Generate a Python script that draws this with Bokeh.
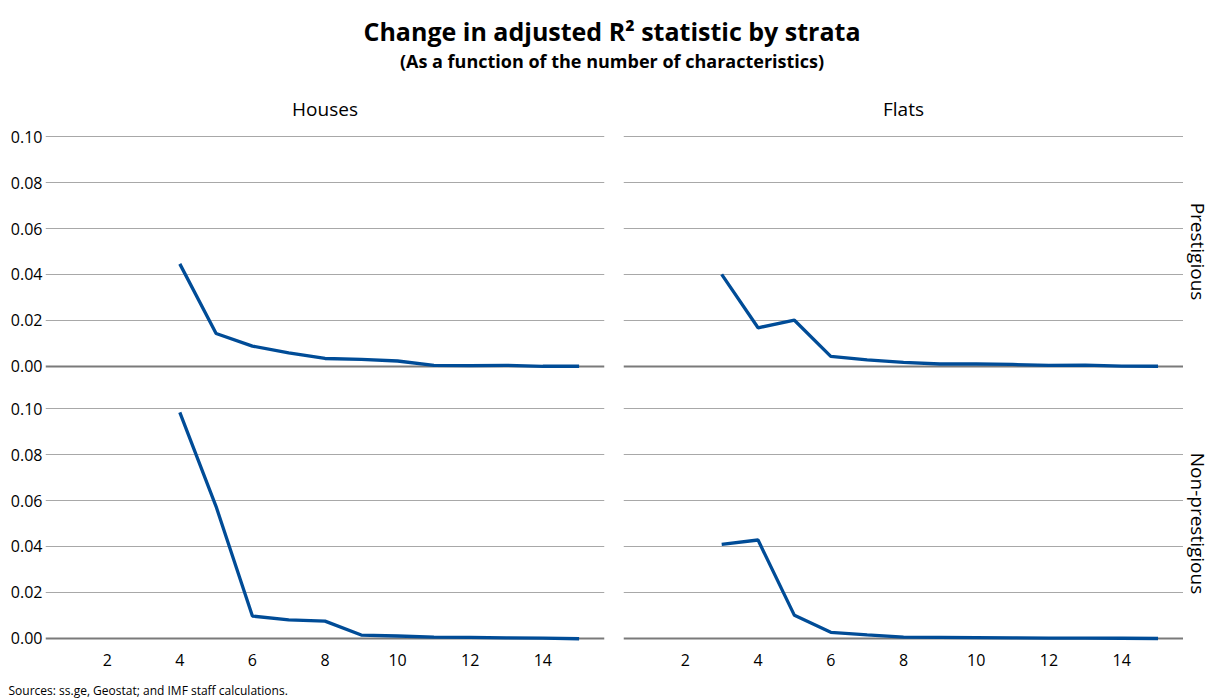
from bokeh.plotting import figure
from bokeh.models import Label, Range1d, FixedTicker, NumeralTickFormatter, LinearAxis, Grid
from bokeh.layouts import column, row
from bokeh.embed import file_html
from bokeh.resources import INLINE

nan = float("nan")

# Number of characteristics
characteristics = [1, 2, 3, 4, 5, 6, 7, 8, 9, 10, 11, 12, 13, 14, 15]

# Change in adjusted R^2
houses_prestigious = [nan, nan, nan, 0.0446, 0.0142, 0.0087, 0.0058, 0.0033, 0.0029, 0.0022, 0.0003, 0.0002, 0.0003, -0.0001, -0.0001]
flats_prestigious = [nan, nan, 0.0400, 0.0167, 0.0200, 0.0042, 0.0027, 0.0016, 0.0009, 0.0009, 0.0007, 0.0003, 0.0004, 0.0000, -0.0001]
houses_nonprestigious = [nan, nan, nan, 0.0985, 0.0574, 0.0096, 0.0079, 0.0074, 0.0013, 0.0009, 0.0004, 0.0003, 0.0001, 0.0000, -0.0003]
flats_nonprestigious = [nan, nan, 0.0409, 0.0428, 0.0099, 0.0025, 0.0014, 0.0004, 0.0003, 0.0002, 0.0001, 0.0000, 0.0000, -0.0001, -0.0002]

column_labels = ["Houses", "Flats"]
row_labels = ["Prestigious", "Non-prestigious"]
y_ticks = [0.02, 0.04, 0.06, 0.08, 0.10]
y_label_ticks = [0.0, 0.02, 0.04, 0.06, 0.08, 0.10]
x_ticks = [2, 4, 6, 8, 10, 12, 14]

TITLE = "Change in adjusted R\u00b2 statistic by strata"
SUBTITLE = "(As a function of the number of characteristics)"
SOURCE = "Sources: ss.ge, Geostat; and IMF staff calculations."

FONT = "Open Sans"
LINE_COLOR = "#004c97"
TEXT_COLOR = "#000000"
W = 1209


def make_panel(ys, width, height, left, right, top, bottom, y_labels, x_labels):
    p = figure(width=width, height=height,
               x_range=Range1d(0.3, 15.7), y_range=Range1d(-0.005, 0.105),
               x_axis_type=None, y_axis_type=None,
               output_backend="svg", toolbar_location=None,
               min_border_left=left, min_border_right=right,
               min_border_top=top, min_border_bottom=bottom)
    p.outline_line_color = None
    p.add_layout(Grid(dimension=1, ticker=FixedTicker(ticks=y_ticks),
                      grid_line_color="#a8a8a8", grid_line_width=1))
    p.add_layout(Grid(dimension=1, ticker=FixedTicker(ticks=[0.0]),
                      grid_line_color="#7a7a7a", grid_line_width=2))
    if y_labels:
        ax = LinearAxis(ticker=FixedTicker(ticks=y_label_ticks),
                        formatter=NumeralTickFormatter(format="0.00"))
        ax.axis_line_color = None
        ax.major_tick_line_color = None
        ax.minor_tick_line_color = None
        ax.major_tick_out = 0
        ax.major_tick_in = 0
        ax.major_label_standoff = 3
        ax.major_label_text_font = FONT
        ax.major_label_text_font_size = "16px"
        ax.major_label_text_color = TEXT_COLOR
        p.add_layout(ax, "left")
    if x_labels:
        ax = LinearAxis(ticker=FixedTicker(ticks=x_ticks))
        ax.axis_line_color = None
        ax.major_tick_line_color = None
        ax.minor_tick_line_color = None
        ax.major_tick_out = 0
        ax.major_tick_in = 0
        ax.major_label_standoff = 4
        ax.major_label_text_font = FONT
        ax.major_label_text_font_size = "16px"
        ax.major_label_text_color = TEXT_COLOR
        p.add_layout(ax, "below")
    p.line(characteristics, ys, line_color=LINE_COLOR, line_width=3.3)
    return p


def blank(width, height):
    p = figure(width=width, height=height, x_range=Range1d(0, width), y_range=Range1d(0, height),
               x_axis_type=None, y_axis_type=None, output_backend="svg", toolbar_location=None,
               min_border=0)
    p.outline_line_color = None
    return p


# Header
header = blank(W, 123)
header.add_layout(Label(x=611.5, y=93, text=TITLE, text_font=FONT, text_font_size="25px",
                        text_font_style="bold", text_align="center", text_baseline="middle",
                        text_color="#000000"))
header.add_layout(Label(x=611.5, y=63, text=SUBTITLE, text_font=FONT, text_font_size="18px",
                        text_font_style="bold", text_align="center", text_baseline="middle",
                        text_color="#000000"))
header.add_layout(Label(x=324.5, y=15, text=column_labels[0], text_font=FONT, text_font_size="19px",
                        text_align="center", text_baseline="middle", text_color="#000000"))
header.add_layout(Label(x=903, y=15, text=column_labels[1], text_font=FONT, text_font_size="19px",
                        text_align="center", text_baseline="middle", text_color="#000000"))

tl = make_panel(houses_prestigious, 614, 264, 45, 10, 2, 10, True, False)
bl = make_panel(houses_nonprestigious, 614, 292, 45, 10, 10, 30, True, True)
tr = make_panel(flats_prestigious, 569, 264, 9, 0, 2, 10, False, False)
br = make_panel(flats_nonprestigious, 569, 292, 9, 0, 10, 30, False, True)

strip_w = W - 614 - 569
strip = blank(strip_w, 556)
strip.add_layout(Label(x=14, y=428, text=row_labels[0], text_font=FONT, text_font_size="19px",
                       text_align="center", text_baseline="middle", angle=-1.5707963,
                       text_color="#000000"))
strip.add_layout(Label(x=14, y=156, text=row_labels[1], text_font=FONT, text_font_size="19px",
                       text_align="center", text_baseline="middle", angle=-1.5707963,
                       text_color="#000000"))

footer = blank(W, 21)
footer.add_layout(Label(x=8, y=10, text=SOURCE, text_font=FONT, text_font_size="12px",
                        text_align="left", text_baseline="middle", text_color="#000000"))

layout = column(header, row(column(tl, bl), column(tr, br), strip), footer)

open("out.html", "w").write(file_html(layout, INLINE))
